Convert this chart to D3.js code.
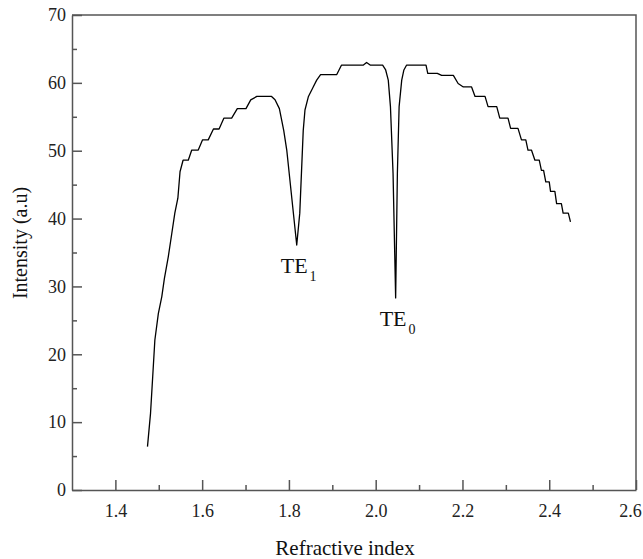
<!DOCTYPE html>
<html>
<head>
<meta charset="utf-8">
<script src="https://cdn.jsdelivr.net/npm/d3@7"></script>
<style>
  body { margin: 0; background: #fff; }
  svg, svg text { font-family: "Times New Roman", Times, "Liberation Serif", "DejaVu Serif", serif; }
</style>
</head>
<body>
<svg id="chart" width="643" height="559"></svg>
<script>
// Refractive index (x) and intensity (y)
const refIndex = [
  1.474, 1.481, 1.486, 1.491, 1.499, 1.507, 1.513, 1.522, 1.530, 1.537,
  1.544, 1.549, 1.556, 1.568, 1.576, 1.591, 1.601, 1.614, 1.626, 1.639,
  1.650, 1.668, 1.681, 1.701, 1.712, 1.726, 1.760, 1.768, 1.778, 1.788,
  1.795, 1.818, 1.825, 1.833, 1.837, 1.845, 1.856, 1.864, 1.873, 1.910,
  1.921, 1.971, 1.979, 1.988, 2.016, 2.023, 2.029, 2.034, 2.040, 2.046,
  2.050, 2.054, 2.060, 2.065, 2.071, 2.116, 2.120, 2.142, 2.152, 2.179,
  2.190, 2.202, 2.221, 2.229, 2.252, 2.259, 2.279, 2.286, 2.305, 2.311,
  2.328, 2.336, 2.346, 2.351, 2.359, 2.367, 2.377, 2.382, 2.387, 2.392,
  2.400, 2.403, 2.413, 2.417, 2.428, 2.432, 2.444, 2.449
];
const intensity = [
  6.4, 11.3, 16.7, 22.1, 26.0, 28.5, 31.2, 34.4, 37.8, 40.8,
  43.0, 46.9, 48.6, 48.6, 50.1, 50.1, 51.6, 51.6, 53.2, 53.2,
  54.8, 54.8, 56.2, 56.2, 57.5, 58.0, 58.0, 57.5, 56.2, 53.0,
  50.1, 36.1, 40.8, 53.0, 56.0, 58.0, 59.4, 60.4, 61.2, 61.2,
  62.6, 62.6, 63.0, 62.6, 62.6, 61.9, 60.4, 56.5, 46.7, 28.3,
  46.7, 56.5, 60.4, 61.9, 62.6, 62.6, 61.4, 61.4, 61.1, 61.1,
  59.9, 59.4, 59.4, 58.0, 58.0, 56.5, 56.5, 54.8, 54.8, 53.3,
  53.3, 51.6, 51.6, 50.1, 50.1, 48.6, 48.6, 47.1, 47.1, 45.4,
  45.4, 44.0, 44.0, 42.2, 42.2, 40.8, 40.8, 39.5
];

const xMajor = [1.4, 1.6, 1.8, 2.0, 2.2, 2.4, 2.6];
const xMinor = [1.5, 1.7, 1.9, 2.1, 2.3, 2.5];
const yMajor = [0, 10, 20, 30, 40, 50, 60, 70];
const yMinor = [5, 15, 25, 35, 45, 55, 65];

// mode labels placed under each dip
const modes = [
  { name: "TE", sub: "1", x: 1.818, y: 36.1 },
  { name: "TE", sub: "0", x: 2.046, y: 28.3 }
];

const serif = '"Times New Roman", Times, "Liberation Serif", "DejaVu Serif", serif';

const svg = d3.select("#chart");
const margin = { top: 15, right: 7, bottom: 69, left: 72 };
const width = +svg.attr("width") - margin.left - margin.right;
const height = +svg.attr("height") - margin.top - margin.bottom;

const g = svg.append("g").attr("transform", `translate(${margin.left},${margin.top})`);

const x = d3.scaleLinear().domain([1.3, 2.6]).range([0, width]);
const y = d3.scaleLinear().domain([0, 70]).range([height, 0]);

const axisColor = "#555";

// frame (top and right)
g.append("path")
  .attr("d", `M0,0H${width}V${height}`)
  .attr("fill", "none")
  .attr("stroke", axisColor)
  .attr("stroke-width", 1.5);

// x axis
const xAxis = g.append("g")
  .attr("transform", `translate(0,${height})`)
  .call(d3.axisBottom(x).tickValues(xMajor).tickFormat(d3.format(".1f"))
    .tickSizeInner(-10).tickSizeOuter(0).tickPadding(14));
xAxis.append("g")
  .call(d3.axisBottom(x).tickValues(xMinor).tickFormat("").tickSizeInner(-5).tickSizeOuter(0))
  .select(".domain").remove();

// y axis
const yAxis = g.append("g")
  .call(d3.axisLeft(y).tickValues(yMajor)
    .tickSizeInner(-10).tickSizeOuter(0).tickPadding(6));
yAxis.append("g")
  .call(d3.axisLeft(y).tickValues(yMinor).tickFormat("").tickSizeInner(-5).tickSizeOuter(0))
  .select(".domain").remove();

svg.selectAll("g").attr("font-family", serif);
svg.selectAll(".domain, .tick line")
  .attr("stroke", axisColor)
  .attr("stroke-width", 1.5);
svg.selectAll(".tick text")
  .style("font-family", serif)
  .attr("font-size", "18px")
  .attr("fill", "#222");
// keep the last label inside the window
xAxis.selectAll(".tick text").filter(d => d === 2.6).attr("dx", -6);

// axis titles
svg.append("text")
  .attr("x", 345)
  .attr("y", 555)
  .attr("text-anchor", "middle")
  .style("font-family", serif)
  .attr("font-size", "21px")
  .attr("fill", "#111")
  .text("Refractive index");
svg.append("text")
  .attr("transform", `translate(27,243) rotate(-90)`)
  .attr("text-anchor", "middle")
  .style("font-family", serif)
  .attr("font-size", "20px")
  .attr("fill", "#111")
  .text("Intensity (a.u)");

// curve
const pts = refIndex.map((r, i) => ({ r, v: intensity[i] }));
const line = d3.line().x(d => x(d.r)).y(d => y(d.v));
g.append("path")
  .datum(pts)
  .attr("fill", "none")
  .attr("stroke", "#000")
  .attr("stroke-width", 1.3)
  .attr("stroke-linejoin", "round")
  .attr("d", line);

// mode labels below each dip
const lab = g.selectAll(".mode")
  .data(modes)
  .join("text")
  .attr("class", "mode")
  .attr("x", d => x(d.x) - 16)
  .attr("y", d => y(d.y) + 28)
  .style("font-family", serif)
  .attr("font-size", "22px")
  .attr("fill", "#111");
lab.append("tspan").text(d => d.name);
lab.append("tspan")
  .attr("dy", 8)
  .attr("dx", 2)
  .attr("font-size", "14px")
  .text(d => d.sub);
</script>
</body>
</html>
